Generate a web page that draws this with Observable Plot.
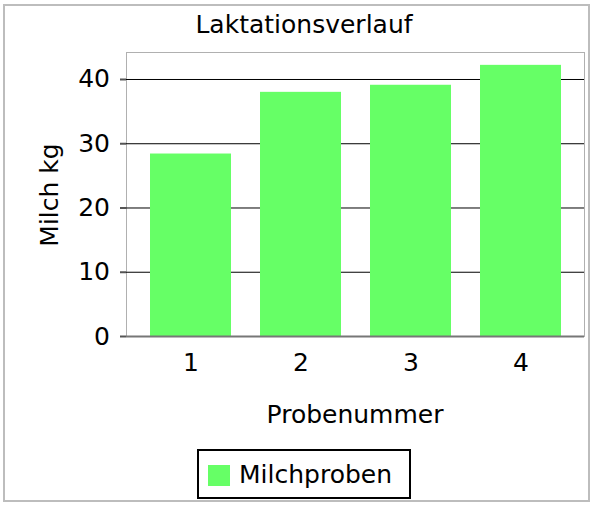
<!DOCTYPE html>
<html><head><meta charset="utf-8">
<script src="https://cdn.jsdelivr.net/npm/d3@7"></script>
<script src="https://cdn.jsdelivr.net/npm/@observablehq/plot@0.6"></script>
<style>
body{margin:0;background:#fff;font-family:"DejaVu Sans",sans-serif;color:#000}
#wrap{position:relative;width:593px;height:506px;overflow:hidden}
.abs{position:absolute;white-space:nowrap;font-size:25px;line-height:25px}
</style></head><body>
<div id="wrap">
 <div id="border" style="position:absolute;left:3px;top:4px;width:587px;height:498px;border:2px solid #bdbdbd;box-sizing:border-box"></div>
 <div class="abs" id="title" style="left:304px;top:12px;transform:translateX(-50%)"></div>
 <div id="chart" style="position:absolute;left:0;top:0"></div>
 <div class="abs" id="ylabel" style="left:49px;top:195px;transform:translate(-50%,-50%) rotate(-90deg)"></div>
 <div class="abs" id="xlabel" style="left:355px;top:402px;transform:translateX(-50%)"></div>
 <div id="legend" style="position:absolute;left:197px;top:449px;width:214px;height:50px;border:2px solid #000;box-sizing:border-box">
   <div id="swatch" style="position:absolute;left:9px;top:14px;width:22px;height:21px"></div>
   <div class="abs" id="legtext" style="left:40px;top:11px"></div>
 </div>
</div>
<script>
const titleText = "Laktationsverlauf";
const xLabel = "Probenummer";
const yLabel = "Milch kg";
const seriesName = "Milchproben";
const probe = ["1", "2", "3", "4"];
const milch = [28.4, 38.0, 39.1, 42.2];
const yTicks = [0, 10, 20, 30, 40];
const gridVals = [10, 20, 30, 40];
const barColor = "#66ff66";

const rows = probe.map((p, i) => ({probe: p, milch: milch[i]}));

document.getElementById("title").textContent = titleText;
document.getElementById("xlabel").textContent = xLabel;
document.getElementById("ylabel").textContent = yLabel;
document.getElementById("legtext").textContent = seriesName;
document.getElementById("swatch").style.background = barColor;

const chart = Plot.plot({
  width: 593, height: 400,
  marginTop: 52, marginBottom: 64, marginLeft: 126, marginRight: 9,
  style: {fontFamily: "DejaVu Sans", fontSize: "25px", background: "transparent", color: "#000", overflow: "visible"},
  x: {type: "band", domain: probe, paddingInner: 0.268, paddingOuter: 0.203, label: null},
  y: {domain: [0, 44.2], label: null},
  marks: [
    Plot.frame({stroke: "#b0b0b0"}),
    Plot.ruleY(gridVals, {stroke: "#000", strokeWidth: 1}),
    Plot.barY(rows, {x: "probe", y: "milch", fill: barColor}),
    Plot.ruleY([0], {stroke: "#777", strokeWidth: 2}),
    Plot.axisY({ticks: yTicks, tickSize: 6, tickPadding: 10.5, line: true, stroke: "#555", strokeWidth: 2, fill: "#000", label: null}),
    Plot.axisX({tickSize: 0, tickPadding: 17, fill: "#000", label: null})
  ]
});
document.getElementById("chart").appendChild(chart);
</script>
</body></html>
